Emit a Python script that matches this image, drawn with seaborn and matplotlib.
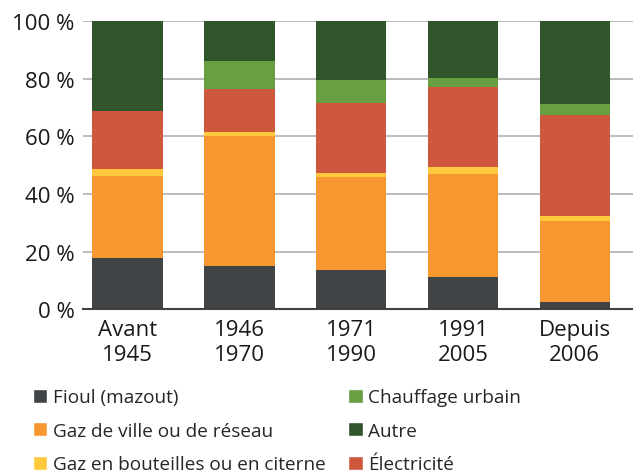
import numpy as np
import pandas as pd
import matplotlib
matplotlib.use("Agg")
import matplotlib.pyplot as plt
from matplotlib.patches import Patch
import seaborn as sns

# periods of construction
periods = ["Avant\n1945", "1946\n1970", "1971\n1990", "1991\n2005", "Depuis\n2006"]

# shares in % (bottom to top)
fioul = [17.7, 15.0, 13.6, 11.2, 2.4]
gaz_ville = [28.5, 45.1, 32.3, 35.7, 28.3]
gaz_bouteille = [2.5, 1.4, 1.4, 2.5, 1.6]
electricite = [20.1, 15.1, 24.4, 27.9, 35.2]
chauffage_urbain = [0.0, 9.6, 7.9, 3.0, 3.8]
autre = [31.2, 13.8, 20.4, 19.7, 28.7]

series = ["Fioul (mazout)", "Gaz de ville ou de réseau", "Gaz en bouteilles ou en citerne",
          "Électricité", "Chauffage urbain", "Autre"]
colors = {
    "Fioul (mazout)": "#404447",
    "Gaz de ville ou de réseau": "#F7972F",
    "Gaz en bouteilles ou en citerne": "#FFC83D",
    "Électricité": "#CD583D",
    "Chauffage urbain": "#689F43",
    "Autre": "#30552A",
}

df = pd.DataFrame({
    "period": periods,
    "Fioul (mazout)": fioul,
    "Gaz de ville ou de réseau": gaz_ville,
    "Gaz en bouteilles ou en citerne": gaz_bouteille,
    "Électricité": electricite,
    "Chauffage urbain": chauffage_urbain,
    "Autre": autre,
})
# cumulative tops so each layer can be drawn over the one above it
cum = df[series].cumsum(axis=1)

sns.set_style("white")
plt.rcParams["font.family"] = ["Open Sans", "DejaVu Sans"]

fig, ax = plt.subplots(figsize=(6.33, 4.77), dpi=100)
fig.subplots_adjust(left=0.131, right=1.0, top=0.953, bottom=0.35)

for s in reversed(series):
    sns.barplot(x=df["period"], y=cum[s], color=colors[s], width=0.63,
                saturation=1, linewidth=0, edgecolor="none", ax=ax, zorder=2)

ax.set_ylim(0, 100)
ax.set_xlim(-0.4, 4.52)
ax.set_yticks([0, 20, 40, 60, 80, 100])
ax.set_yticklabels([f"{v} %" for v in [0, 20, 40, 60, 80, 100]])
ax.yaxis.grid(True, color="#b0b0b0", linewidth=1.2, zorder=0)
ax.set_axisbelow(True)
ax.set_xlabel("")
ax.set_ylabel("")
for sp in ["left", "right", "top"]:
    ax.spines[sp].set_visible(False)
ax.spines["bottom"].set_color("#404040")
ax.spines["bottom"].set_linewidth(1.5)
ax.tick_params(axis="both", length=0, labelsize=16, labelcolor="#1a1a1a")
ax.tick_params(axis="x", pad=7)
ax.tick_params(axis="y", pad=6)
for lbl in ax.get_xticklabels():
    lbl.set_linespacing(1.25)

legend_order = ["Fioul (mazout)", "Gaz de ville ou de réseau", "Gaz en bouteilles ou en citerne",
                "Chauffage urbain", "Autre", "Électricité"]
handles = [Patch(facecolor=colors[s], label=s) for s in legend_order]
fig.legend(handles=handles, loc="upper left", bbox_to_anchor=(0.04, 0.2),
           ncol=2, frameon=False, fontsize=13.7, handlelength=0.75, handleheight=0.75,
           handletextpad=0.3, columnspacing=1.2, labelspacing=0.82, borderaxespad=0)

fig.savefig("out.png", dpi=100)
